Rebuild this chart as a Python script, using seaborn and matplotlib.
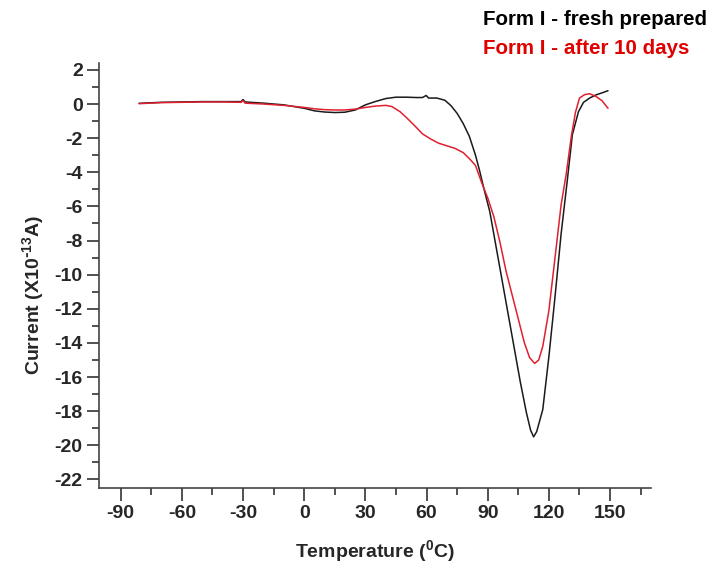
#Libraries
import numpy as np
import pandas as pd
import seaborn as sns
import matplotlib
matplotlib.use('Agg')
import matplotlib.pyplot as plt
from matplotlib.ticker import MultipleLocator

#Data (temperature in C, current in 1e-13 A)
temp_fresh = [-81, -70, -60, -50, -40, -31, -30, -29, -20, -10, 0, 5, 10, 15, 20, 25,
              30, 35, 40, 45, 50, 55, 58, 59.8, 61, 65, 69, 72, 75, 78, 81, 84, 86, 88,
              91, 94, 97, 100, 103, 106, 109, 111, 112.5, 114, 117, 120, 123, 126, 129,
              131.5, 134.5, 137, 140, 143, 146, 149]
curr_fresh = [0.04, 0.1, 0.12, 0.14, 0.14, 0.14, 0.26, 0.12, 0.05, -0.05, -0.25, -0.4,
              -0.47, -0.5, -0.48, -0.35, -0.05, 0.15, 0.32, 0.4, 0.4, 0.38, 0.38, 0.5,
              0.35, 0.35, 0.22, -0.1, -0.55, -1.15, -1.9, -3.0, -3.9, -4.9, -6.3, -8.3,
              -10.3, -12.3, -14.3, -16.3, -18.1, -19.1, -19.5, -19.2, -17.9, -14.8,
              -11.3, -7.6, -4.5, -1.8, -0.45, 0.1, 0.35, 0.53, 0.65, 0.78]

temp_aged = [-81, -70, -60, -50, -40, -31, -30, -29, -20, -10, 0, 5, 10, 15, 20, 25,
             30, 35, 40, 43, 47, 50, 54, 58, 62, 66, 70, 74, 78, 81, 84, 87, 90, 93, 96,
             99, 102, 105, 108, 110.5, 113, 115, 117, 120, 123, 126, 128.5, 131, 133,
             135, 137.5, 140, 143, 146, 149]
curr_aged = [0.02, 0.08, 0.1, 0.12, 0.12, 0.1, 0.2, 0.05, 0.0, -0.08, -0.2, -0.28, -0.33,
             -0.35, -0.35, -0.3, -0.2, -0.12, -0.08, -0.15, -0.45, -0.78, -1.25, -1.75,
             -2.05, -2.3, -2.45, -2.6, -2.85, -3.2, -3.6, -4.6, -5.5, -6.6, -8.1, -9.8,
             -11.2, -12.6, -14.0, -14.85, -15.2, -15.0, -14.2, -12.1, -9.0, -5.9, -4.1,
             -1.9, -0.5, 0.35, 0.55, 0.6, 0.45, 0.2, -0.25]

labels = ['Form I - fresh prepared', 'Form I - after 10 days']

df = pd.concat([
    pd.DataFrame({'T': temp_fresh, 'I': curr_fresh, 'sample': labels[0]}),
    pd.DataFrame({'T': temp_aged, 'I': curr_aged, 'sample': labels[1]}),
])

#Style
sns.set_style('ticks')
plt.rcParams['font.family'] = ['Liberation Sans', 'DejaVu Sans']
plt.rcParams['font.weight'] = 'bold'
plt.rcParams['mathtext.default'] = 'regular'
plt.rcParams['axes.unicode_minus'] = False

fig = plt.figure(figsize=(7.16, 5.68), dpi=100)
ax = fig.add_axes([0.1387, 0.1408, 0.909 - 0.1387, 0.889 - 0.1408])

colors = {labels[0]: '#1a1a1a', labels[1]: '#e0202e'}
sns.lineplot(data=df, x='T', y='I', hue='sample', palette=colors, sort=False,
             estimator=None, linewidth=1.1, legend=False, ax=ax)

ax.set_xlim(-100.5, 170)
ax.set_ylim(-22.5, 2.4)
ax.xaxis.set_major_locator(MultipleLocator(30))
ax.xaxis.set_minor_locator(MultipleLocator(15))
ax.yaxis.set_major_locator(MultipleLocator(2))
ax.yaxis.set_minor_locator(MultipleLocator(1))
ax.set_xticks(np.arange(-90, 151, 30))

for s in ['top', 'right']:
    ax.spines[s].set_visible(False)
for s in ['left', 'bottom']:
    ax.spines[s].set_color('#444444')
    ax.spines[s].set_linewidth(1.2)
ax.tick_params(which='major', length=9, width=1.2, color='#333333', labelsize=14, pad=3)
ax.tick_params(which='minor', length=5, width=1.2, color='#333333')
for lab in ax.get_xticklabels() + ax.get_yticklabels():
    lab.set_fontweight('bold')

ax.set_xlabel('Temperature ($^0$C)', fontsize=14, fontweight='bold', labelpad=12)
ax.set_ylabel(r'Current (X10$^{\text{-}13}$A)', fontsize=14, fontweight='bold')
ax.yaxis.set_label_coords(-0.097, 0.454)

#Legend as coloured text, top right
fig.text(0.675, 0.965, labels[0], color='black', fontsize=14.8, fontweight='bold',
         va='center', ha='left')
fig.text(0.675, 0.915, labels[1], color='#e00000', fontsize=14.8, fontweight='bold',
         va='center', ha='left')

fig.savefig('out.png', dpi=100, facecolor='white')
